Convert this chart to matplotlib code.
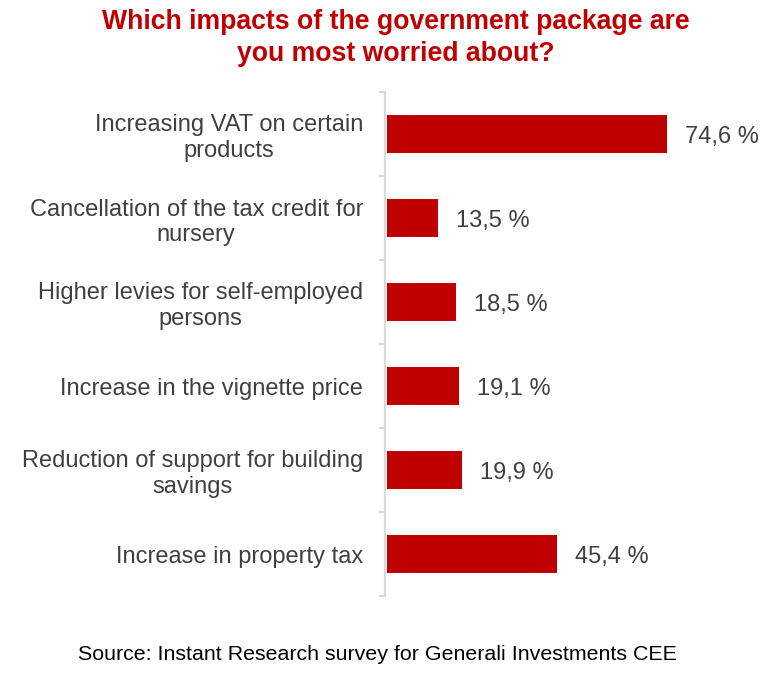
import matplotlib.pyplot as plt

plt.rcParams['font.family'] = ['Liberation Sans', 'DejaVu Sans']

categories = [
    "Increasing VAT on certain\nproducts",
    "Cancellation of the tax credit for\nnursery",
    "Higher levies for self-employed\npersons",
    "Increase in the vignette price",
    "Reduction of support for building\nsavings",
    "Increase in property tax",
]
values = [74.6, 13.5, 18.5, 19.1, 19.9, 45.4]
value_labels = ["74,6 %", "13,5 %", "18,5 %", "19,1 %", "19,9 %", "45,4 %"]

red = "#C00000"
text_col = "#404040"
axis_col = "#D9D9D9"

fig = plt.figure(figsize=(7.64, 6.79), dpi=100)
ax = fig.add_axes([385 / 764, 1 - 596 / 679, (740 - 385) / 764, (596 - 92) / 679])

pos = list(range(len(categories)))[::-1]
ax.barh(pos, values, height=0.45, color=red)
for p, v, lab in zip(pos, values, value_labels):
    ax.text(v + 4.8, p, lab, va='center_baseline', ha='left', fontsize=17, color=text_col)

ax.set_xlim(-0.53, 94.05)
ax.set_ylim(-0.5, 5.5)
ax.set_xticks([])
ax.set_yticks(pos)
ax.set_yticklabels(categories, fontsize=17, color=text_col, linespacing=1.2,
                   multialignment='center')
ax.tick_params(axis='y', which='major', length=0, pad=15.8)
ax.set_yticks([i - 0.5 for i in range(7)], minor=True)
ax.tick_params(axis='y', which='minor', length=4.5, width=1.5, color=axis_col)
for s in ['top', 'right', 'bottom']:
    ax.spines[s].set_visible(False)
ax.spines['left'].set_color(axis_col)
ax.spines['left'].set_linewidth(1.5)

fig.text(396 / 764, 1 - 38 / 679, "Which impacts of the government package are\nyou most worried about?",
         ha='center', va='center', fontsize=19.2, fontweight='bold', color=red, linespacing=1.3)
fig.text(377 / 764, 1 - 655 / 679, "Source: Instant Research survey for Generali Investments CEE",
         ha='center', va='center', fontsize=15.4, color='black')

fig.savefig("out.png", dpi=100)
